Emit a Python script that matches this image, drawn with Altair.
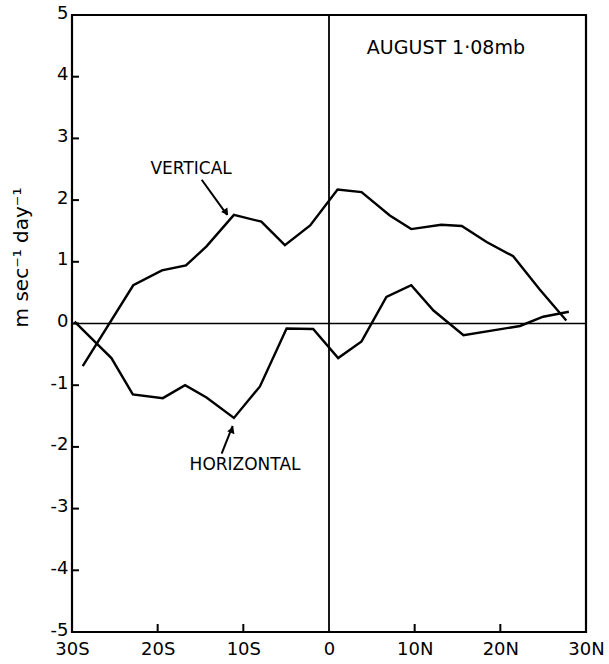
import altair as alt
import pandas as pd

# ---- data ----
vert_lat = [-28.75, -22.85, -19.5, -16.7, -14.3, -11.1, -7.9, -5.15, -2.2, 1.0, 3.8, 7.1, 9.6, 13.1, 15.5, 18.4, 21.5, 24.6, 27.7]
vert_val = [-0.69, 0.62, 0.86, 0.94, 1.25, 1.76, 1.65, 1.27, 1.59, 2.17, 2.13, 1.75, 1.53, 1.60, 1.58, 1.32, 1.09, 0.55, 0.05]

horiz_lat = [-29.7, -25.4, -22.9, -19.4, -16.8, -14.3, -11.1, -8.06, -4.95, -1.85, 1.07, 3.8, 6.7, 9.6, 12.2, 15.7, 22.3, 25.0, 28.0]
horiz_val = [0.03, -0.56, -1.15, -1.21, -1.0, -1.2, -1.53, -1.02, -0.08, -0.09, -0.56, -0.29, 0.43, 0.62, 0.21, -0.19, -0.04, 0.11, 0.19]

x_ticks = [-30, -20, -10, 0, 10, 20, 30]
y_ticks = [-5, -4, -3, -2, -1, 0, 1, 2, 3, 4, 5]
inner_x_ticks = [-20, -10, 10, 20]

label_text = ["VERTICAL", "HORIZONTAL", "AUGUST 1·08mb"]
label_lat = [-16.1, -9.8, 13.65]
label_val = [2.50, -2.29, 4.46]
label_size = [17, 17, 19]

arrow_lat = [-14.86, -12.53]
arrow_val = [2.33, -2.11]
arrow_lat2 = [-11.9, -11.25]
arrow_val2 = [1.76, -1.66]
head_lat = [-12.0, -11.32]
head_val = [1.80, -1.72]
head_angle = [144, 21]

# ---- tables ----
lines = pd.DataFrame(
    {"lat": vert_lat + horiz_lat,
     "val": vert_val + horiz_val,
     "series": ["vertical"] * len(vert_lat) + ["horizontal"] * len(horiz_lat),
     "i": list(range(len(vert_lat))) + list(range(len(horiz_lat)))}
)
labels = pd.DataFrame({"t": label_text, "lat": label_lat, "val": label_val, "s": label_size})
arrows = pd.DataFrame({"lat": arrow_lat, "val": arrow_val, "lat2": arrow_lat2, "val2": arrow_val2})
heads = pd.DataFrame({"lat": head_lat, "val": head_val, "a": head_angle})

FONT = "DejaVu Sans"
xs = alt.Scale(domain=[-30, 30], nice=False, zero=False)
ys = alt.Scale(domain=[-5, 5], nice=False, zero=False)

x_axis = alt.Axis(
    values=x_ticks, grid=False, ticks=False, domain=False, title=None, labelFlush=False,
    labelExpr="datum.value < 0 ? abs(datum.value) + 'S' : (datum.value > 0 ? datum.value + 'N' : '0')",
    labelFont=FONT, labelFontSize=18, labelColor="black", labelPadding=8,
)
y_axis = alt.Axis(
    values=y_ticks, grid=False, ticks=False, domain=False, labelFlush=False,
    labelExpr="datum.value < 0 ? '-' + abs(datum.value) : '' + datum.value",
    labelFont=FONT, labelFontSize=18, labelColor="black", labelPadding=4, labelOffset=-2,
    title="m sec⁻¹ day⁻¹", titleFont=FONT, titleFontSize=20, titleFontWeight="normal",
    titleColor="black", titleAngle=270, titleX=-51, titleY=242,
    titleAlign="center", titleBaseline="middle",
)

base = alt.Chart(lines)

curves = base.mark_line(color="black", strokeWidth=2.4, strokeJoin="miter").encode(
    x=alt.X("lat:Q", scale=xs, axis=x_axis),
    y=alt.Y("val:Q", scale=ys, axis=y_axis),
    detail="series:N",
    order="i:Q",
)

zero_h = alt.Chart(pd.DataFrame({"v": [0]})).mark_rule(color="black", strokeWidth=1.5).encode(
    y=alt.Y("v:Q", scale=ys)
)
zero_v = alt.Chart(pd.DataFrame({"v": [0]})).mark_rule(color="black", strokeWidth=1.8).encode(
    x=alt.X("v:Q", scale=xs)
)

xt = alt.Chart(pd.DataFrame({"v": inner_x_ticks})).mark_rule(color="black", strokeWidth=2).encode(
    x=alt.X("v:Q", scale=xs), y=alt.value(617), y2=alt.value(609)
)
yt = alt.Chart(pd.DataFrame({"v": y_ticks})).mark_rule(color="black", strokeWidth=2).encode(
    y=alt.Y("v:Q", scale=ys), x=alt.value(0), x2=alt.value(7)
)

texts = alt.Chart(labels).mark_text(font=FONT, color="black", align="center", baseline="middle").encode(
    x=alt.X("lat:Q", scale=xs), y=alt.Y("val:Q", scale=ys), text="t:N",
    size=alt.Size("s:Q", scale=None, legend=None),
)

arrow_lines = alt.Chart(arrows).mark_rule(color="black", strokeWidth=2).encode(
    x=alt.X("lat:Q", scale=xs), y=alt.Y("val:Q", scale=ys), x2="lat2:Q", y2="val2:Q"
)
arrow_heads = alt.Chart(heads).mark_point(shape="triangle-up", filled=True, color="black", size=60, opacity=1).encode(
    x=alt.X("lat:Q", scale=xs), y=alt.Y("val:Q", scale=ys),
    angle=alt.Angle("a:Q", scale=None),
)

chart = alt.layer(zero_h, zero_v, xt, yt, curves, arrow_lines, arrow_heads, texts).properties(
    width=514, height=617,
    autosize=alt.AutoSizeParams(type="none"),
    padding={"left": 72, "top": 15, "right": 23, "bottom": 32},
    background="white",
).configure_view(stroke="black", strokeWidth=2.2)

chart.save("out.html", embed_options={"renderer": "svg", "actions": False})
